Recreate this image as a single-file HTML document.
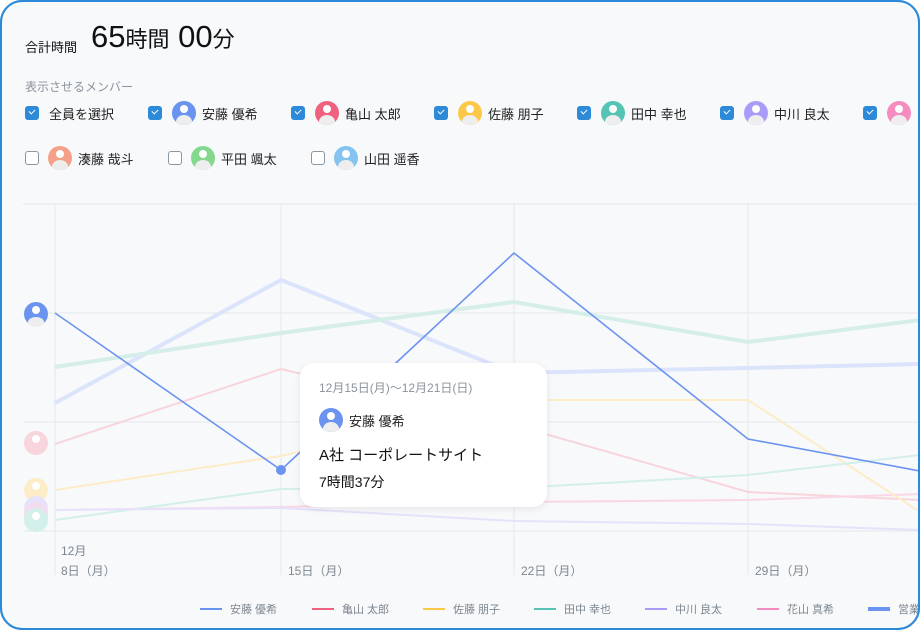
<!DOCTYPE html>
<html><head><meta charset="utf-8"><style>
body{margin:0;width:920px;height:630px;overflow:hidden;background:#fff;font-family:"Liberation Sans","Noto Sans CJK JP",sans-serif;}
.card{position:absolute;left:0;top:0;width:916px;height:626px;border:2px solid #2d8ad8;border-radius:22px;background:#f8f9fb;overflow:hidden;}
.t{position:absolute;white-space:nowrap;}
.cb{position:absolute;width:14px;height:14px;border-radius:3px;background:#2d8ad8;}
.cb::after{content:"";position:absolute;left:4px;top:3px;width:5px;height:3px;border-left:1.5px solid #fff;border-bottom:1.5px solid #fff;transform:rotate(-45deg);}
.cb.off{background:#fff;border:1.5px solid #8a96a3;width:12px;height:12px;}
.cb.off::after{display:none}
.av{position:absolute;width:24px;height:24px;border-radius:50%;overflow:hidden;}
.av::before{content:"";position:absolute;left:8px;top:4px;width:8px;height:8px;border-radius:50%;background:#fff;}
.av::after{content:"";position:absolute;left:4px;top:14px;width:16px;height:14px;border-radius:50%;background:#eee;}
.nm{position:absolute;font-size:13px;color:#222;white-space:nowrap;}
</style></head><body>
<div class="card">
<div class="t" style="left:23px;top:35px;font-size:13px;color:#111">合計時間</div>
<div class="t" style="left:89px;top:17px;font-size:31px;color:#111">65<span style="font-size:22px">時間</span> 00<span style="font-size:22px">分</span></div>
<div class="t" style="left:23px;top:76px;font-size:12px;color:#8a939c">表示させるメンバー</div>
</div>
<div style="position:absolute;left:0;top:0">
<div class="cb" style="left:25px;top:106px"></div><div class="nm" style="left:49px;top:104px">全員を選択</div>
<div class="cb" style="left:148px;top:106px"></div><div class="av" style="left:172px;top:101px;background:#6b93f0"></div><div class="nm" style="left:202px;top:104px">安藤 優希</div>
<div class="cb" style="left:291px;top:106px"></div><div class="av" style="left:315px;top:101px;background:#f0607f"></div><div class="nm" style="left:345px;top:104px">亀山 太郎</div>
<div class="cb" style="left:434px;top:106px"></div><div class="av" style="left:458px;top:101px;background:#fbc84a"></div><div class="nm" style="left:488px;top:104px">佐藤 朋子</div>
<div class="cb" style="left:577px;top:106px"></div><div class="av" style="left:601px;top:101px;background:#55c4b5"></div><div class="nm" style="left:631px;top:104px">田中 幸也</div>
<div class="cb" style="left:720px;top:106px"></div><div class="av" style="left:744px;top:101px;background:#a99cf8"></div><div class="nm" style="left:774px;top:104px">中川 良太</div>
<div class="cb" style="left:863px;top:106px"></div><div class="av" style="left:887px;top:101px;background:#f68bc0"></div>
<div class="cb off" style="left:25px;top:151px"></div><div class="av" style="left:48px;top:146px;background:#f5a088"></div><div class="nm" style="left:78px;top:149px">湊藤 哉斗</div>
<div class="cb off" style="left:168px;top:151px"></div><div class="av" style="left:191px;top:146px;background:#84d88e"></div><div class="nm" style="left:221px;top:149px">平田 颯太</div>
<div class="cb off" style="left:311px;top:151px"></div><div class="av" style="left:334px;top:146px;background:#85c3f0"></div><div class="nm" style="left:364px;top:149px">山田 遥香</div>
</div>
<svg style="position:absolute;left:0;top:0" width="918" height="628">
<g stroke="#e3e9ee" stroke-width="1">
<line x1="23" y1="204" x2="918" y2="204"/><line x1="23" y1="313" x2="918" y2="313"/><line x1="23" y1="422" x2="918" y2="422"/><line x1="23" y1="531" x2="918" y2="531"/>
<line x1="55" y1="204" x2="55" y2="575"/><line x1="281" y1="204" x2="281" y2="575"/><line x1="514" y1="204" x2="514" y2="575"/><line x1="748" y1="204" x2="748" y2="575"/>
</g>
<g fill="none">
<polyline points="55,403 281,280 514,373 748,368 920,364" stroke="#dbe4fb" stroke-width="4"/>
<polyline points="55,367 281,333 514,302 748,342 920,320" stroke="#d6eeea" stroke-width="4"/>
<polyline points="55,444 281,369 514,425 748,492 920,500" stroke="#f8d4dc" stroke-width="2"/>
<polyline points="55,510 281,507 514,502 748,500 920,494" stroke="#f9d7e8" stroke-width="2"/>
<polyline points="55,490 281,456 514,400 748,400 920,512" stroke="#fcedc7" stroke-width="2"/>
<polyline points="55,520 281,489 514,488 748,475 920,455" stroke="#d3efea" stroke-width="2"/>
<polyline points="55,510 281,508 514,521 748,524 920,530" stroke="#e6e2fb" stroke-width="2"/>
<polyline points="55,313 281,470 514,253 748,439 920,471" stroke="#6b93f0" stroke-width="1.6"/>
</g>
<circle cx="281" cy="470" r="5" fill="#6b93f0"/>
<g>
<circle cx="36" cy="443" r="12" fill="#f8d4dc"/><circle cx="36" cy="439" r="4" fill="#fff"/>
<circle cx="36" cy="490" r="12" fill="#fcedc7"/><circle cx="36" cy="486" r="4" fill="#fff"/>
<circle cx="36" cy="508" r="12" fill="#e6e2fb"/><circle cx="36" cy="514" r="12" fill="#f3dcef"/><circle cx="36" cy="520" r="12" fill="#d3efea"/><circle cx="36" cy="516" r="4" fill="#fff"/>
<circle cx="36" cy="314" r="12" fill="#6b93f0"/><circle cx="36" cy="310" r="4" fill="#fff"/><ellipse cx="36" cy="322" rx="8" ry="5" fill="#eee"/>
</g>
<g font-size="12" fill="#7d8790" font-family="Liberation Sans,Noto Sans CJK JP,sans-serif">
<text x="61" y="555">12月</text><text x="61" y="575">8日（月）</text>
<text x="288" y="575">15日（月）</text><text x="521" y="575">22日（月）</text><text x="755" y="575">29日（月）</text>
</g>
<g font-size="11" fill="#7d8790" font-family="Liberation Sans,Noto Sans CJK JP,sans-serif">
<line x1="200" y1="609" x2="222" y2="609" stroke="#6b93f0" stroke-width="2"/><text x="230" y="613">安藤 優希</text>
<line x1="312" y1="609" x2="334" y2="609" stroke="#f0607f" stroke-width="2"/><text x="342" y="613">亀山 太郎</text>
<line x1="423" y1="609" x2="445" y2="609" stroke="#fbc84a" stroke-width="2"/><text x="453" y="613">佐藤 朋子</text>
<line x1="534" y1="609" x2="556" y2="609" stroke="#55c4b5" stroke-width="2"/><text x="564" y="613">田中 幸也</text>
<line x1="645" y1="609" x2="667" y2="609" stroke="#a99cf8" stroke-width="2"/><text x="675" y="613">中川 良太</text>
<line x1="757" y1="609" x2="779" y2="609" stroke="#f68bc0" stroke-width="2"/><text x="787" y="613">花山 真希</text>
<line x1="868" y1="609" x2="890" y2="609" stroke="#6b93f0" stroke-width="4"/><text x="898" y="613">営業</text>
</g>
</svg>
<div style="position:absolute;left:300px;top:363px;width:247px;height:144px;background:#fff;border-radius:14px;box-shadow:0 2px 8px rgba(0,0,0,0.08)">
<div class="t" style="left:19px;top:16px;font-size:12px;color:#8a939c">12月15日(月)〜12月21日(日)</div>
<div class="av" style="left:19px;top:45px;background:#6b93f0"></div>
<div class="t" style="left:49px;top:48px;font-size:13px;color:#222">安藤 優希</div>
<div class="t" style="left:19px;top:81px;font-size:15px;color:#111">A社 コーポレートサイト</div>
<div class="t" style="left:19px;top:109px;font-size:14px;color:#111">7時間37分</div>
</div>
<div style="position:absolute;left:0;top:0;width:916px;height:626px;border:2px solid #2d8ad8;border-radius:22px;pointer-events:none"></div>
</body></html>
